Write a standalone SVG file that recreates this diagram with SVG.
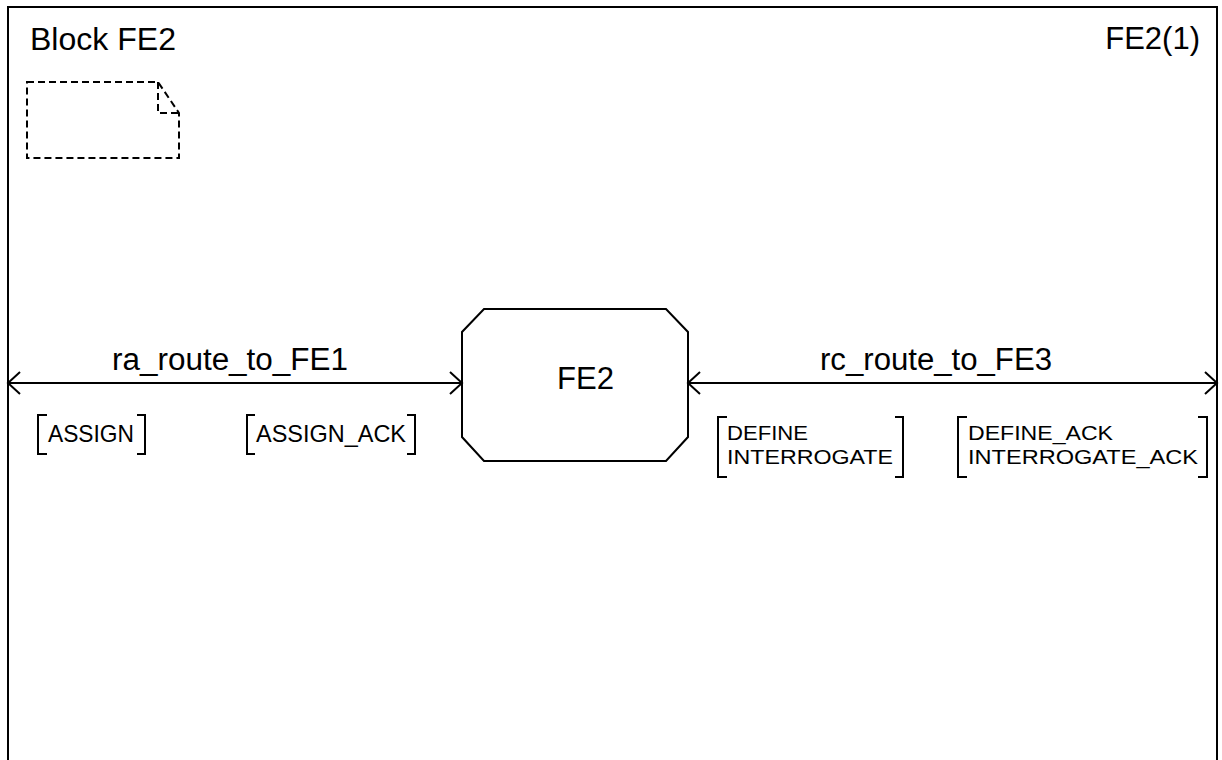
<svg xmlns="http://www.w3.org/2000/svg" width="1222" height="760" viewBox="0 0 1222 760">
<style>
.ln{fill:none;stroke:#000;stroke-width:2}
.dash{fill:none;stroke:#000;stroke-width:2;stroke-dasharray:7,4}
.big{font-family:"Liberation Sans",Arial,sans-serif;font-size:31px;fill:#000}
.sig{font-family:"Liberation Sans",Arial,sans-serif;font-size:24px;fill:#000}
.sig2{font-family:"Liberation Sans",Arial,sans-serif;font-size:21px;fill:#000}
</style>
<defs>
<marker id="arr" markerUnits="userSpaceOnUse" markerWidth="16" markerHeight="28" refX="13" refY="13" orient="auto-start-reverse" viewBox="0 0 16 28">
<path d="M1,2 L13,13 L1,24" fill="none" stroke="#000" stroke-width="2"/>
</marker>
</defs>
<rect width="1222" height="760" fill="#fff"/>
<g id="frame">
<path class="ln" d="M8,765 V7 H1217 V765"/>
<text class="big" x="30" y="50" textLength="146" lengthAdjust="spacingAndGlyphs">Block FE2</text>
<text class="big" x="1200" y="49" text-anchor="end">FE2(1)</text>
</g>
<g id="textsymbol">
<path class="dash" d="M27,82 H158 L179,113 V158 H27 Z"/>
<path class="dash" d="M158,82 V113 H179"/>
</g>
<g id="FE2">
<path class="ln" d="M484,309 H666 L688,332 V437 L666,461 H484 L462,437 V332 Z"/>
<text class="big" x="557" y="389" textLength="57" lengthAdjust="spacingAndGlyphs">FE2</text>
</g>
<g id="connectors">
<line class="ln" x1="8" y1="383" x2="462" y2="383" marker-start="url(#arr)" marker-end="url(#arr)"/>
<line class="ln" x1="688" y1="383" x2="1217" y2="383" marker-start="url(#arr)" marker-end="url(#arr)"/>
<text class="big" x="112" y="370" textLength="236" lengthAdjust="spacingAndGlyphs">ra_route_to_FE1</text>
<text class="big" x="820" y="370" textLength="232" lengthAdjust="spacingAndGlyphs">rc_route_to_FE3</text>
</g>
<g id="signals_ra">
<path class="ln" d="M47,415 H38 V454 H47 M137,415 H145 V454 H137"/>
<text class="sig" x="48" y="442" textLength="86" lengthAdjust="spacingAndGlyphs">ASSIGN</text>
<path class="ln" d="M255,415 H247 V454 H255 M407,415 H415 V454 H407"/>
<text class="sig" x="256" y="442" textLength="150" lengthAdjust="spacingAndGlyphs">ASSIGN_ACK</text>
</g>
<g id="signals_rc">
<path class="ln" d="M727,417 H718 V477 H727 M895,417 H903 V477 H895"/>
<text class="sig2" x="727" y="440" textLength="81" lengthAdjust="spacingAndGlyphs">DEFINE</text>
<text class="sig2" x="727" y="464" textLength="166" lengthAdjust="spacingAndGlyphs">INTERROGATE</text>
<path class="ln" d="M967,417 H958 V477 H967 M1198,417 H1207 V477 H1198"/>
<text class="sig2" x="968" y="440" textLength="145" lengthAdjust="spacingAndGlyphs">DEFINE_ACK</text>
<text class="sig2" x="968" y="464" textLength="230" lengthAdjust="spacingAndGlyphs">INTERROGATE_ACK</text>
</g>
</svg>
